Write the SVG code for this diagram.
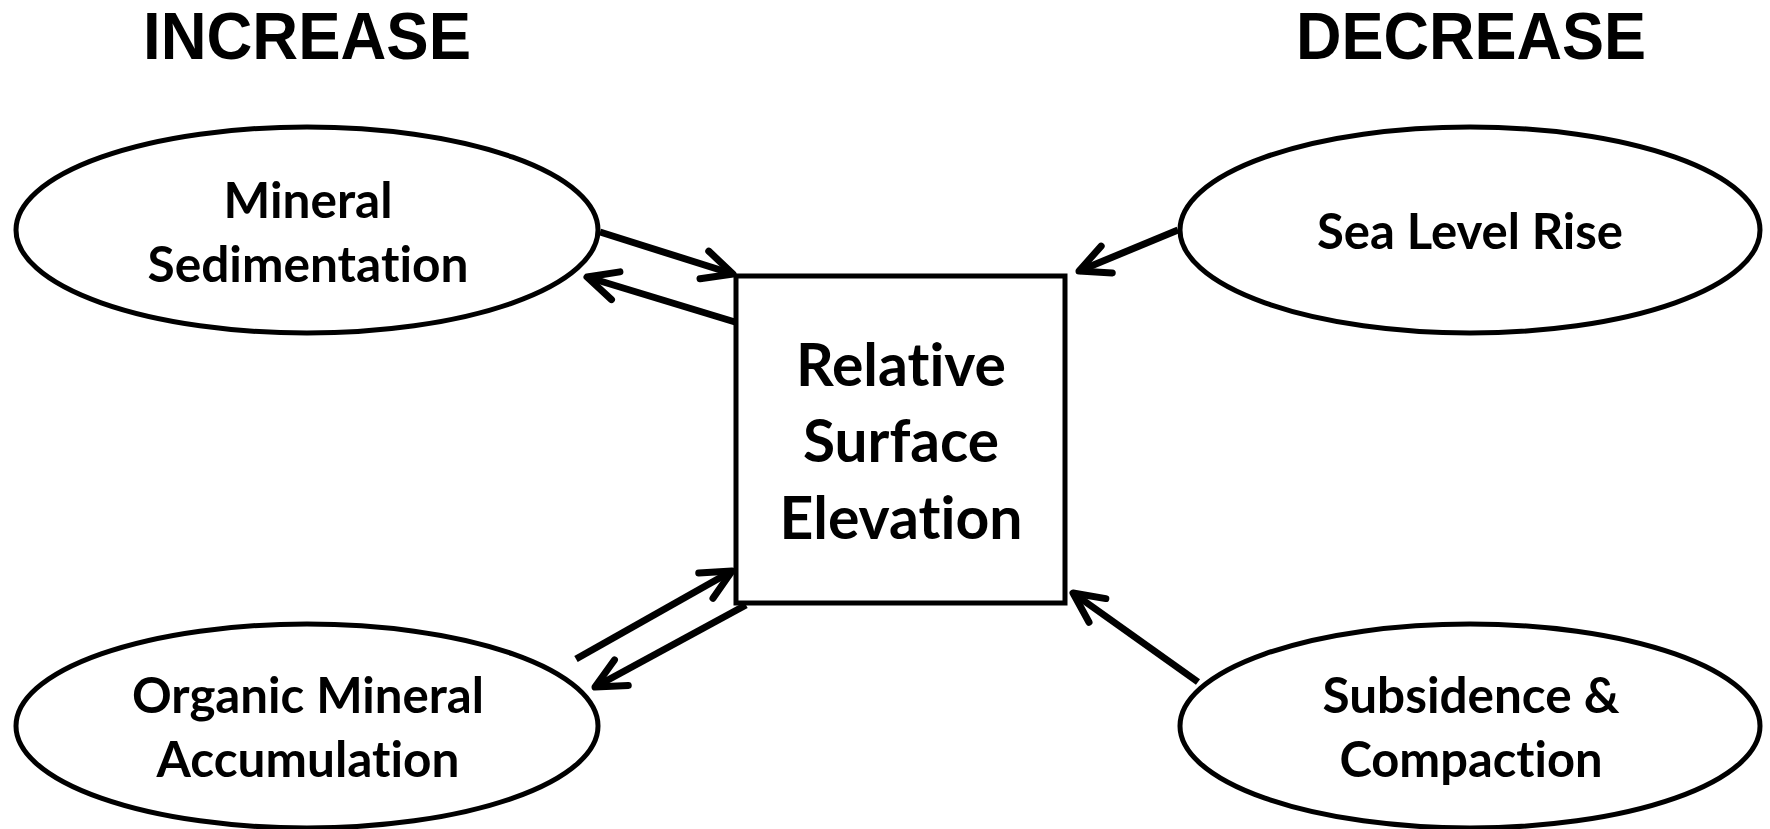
<svg xmlns="http://www.w3.org/2000/svg" width="1770" height="829" viewBox="0 0 1770 829">
  <style>
    .shape { fill: #fff; stroke: #000; stroke-width: 5; }
    .head { font-family: "Liberation Sans", Arial, sans-serif; font-weight: bold; font-size: 67px; text-anchor: middle; fill: #000; }
    .lbl { font-family: Lato, "Open Sans", sans-serif; font-weight: bold; font-size: 49px; text-anchor: middle; fill: #000; font-variant-ligatures: none; }
    .big { font-family: Lato, "Open Sans", sans-serif; font-weight: bold; font-size: 60px; text-anchor: middle; fill: #000; font-variant-ligatures: none; }
    .link { fill: none; stroke: #000; stroke-width: 7; stroke-linecap: butt; }
  </style>
  <defs>
    <marker id="chev" markerUnits="userSpaceOnUse" markerWidth="60" markerHeight="60" refX="0" refY="0" orient="auto" overflow="visible">
      <path d="M -30 -14.5 L 0 0 L -30 14.5" fill="none" stroke="#000" stroke-width="7" stroke-linecap="round" stroke-linejoin="round"/>
    </marker>
  </defs>
  <rect width="1770" height="829" fill="#fff"/>

  <text class="head" x="307" y="59" textLength="328" lengthAdjust="spacingAndGlyphs">INCREASE</text>
  <text class="head" x="1471" y="59" textLength="350" lengthAdjust="spacingAndGlyphs">DECREASE</text>

  <g id="connectors">
    <line class="link" x1="600" y1="232" x2="733" y2="274" marker-end="url(#chev)"/>
    <line class="link" x1="735" y1="322" x2="587" y2="277" marker-end="url(#chev)"/>
    <line class="link" x1="576" y1="659" x2="732" y2="571" marker-end="url(#chev)"/>
    <line class="link" x1="746" y1="605" x2="595" y2="687" marker-end="url(#chev)"/>
    <line class="link" x1="1178" y1="230" x2="1079" y2="271" marker-end="url(#chev)"/>
    <line class="link" x1="1198" y1="682" x2="1073" y2="593" marker-end="url(#chev)"/>
  </g>

  <g id="mineral-sedimentation">
    <ellipse class="shape" cx="307" cy="230" rx="291" ry="103"/>
    <text class="lbl" x="308" y="218" textLength="169" lengthAdjust="spacingAndGlyphs">Mineral</text>
    <text class="lbl" x="308" y="282" textLength="321" lengthAdjust="spacingAndGlyphs">Sedimentation</text>
  </g>

  <g id="sea-level-rise">
    <ellipse class="shape" cx="1470" cy="230" rx="290" ry="103"/>
    <text class="lbl" x="1470" y="249" textLength="306" lengthAdjust="spacingAndGlyphs">Sea Level Rise</text>
  </g>

  <g id="organic-mineral-accumulation">
    <ellipse class="shape" cx="307" cy="726" rx="291" ry="102"/>
    <text class="lbl" x="308" y="713" textLength="352" lengthAdjust="spacingAndGlyphs">Organic Mineral</text>
    <text class="lbl" x="308" y="777" textLength="303" lengthAdjust="spacingAndGlyphs">Accumulation</text>
  </g>

  <g id="subsidence-compaction">
    <ellipse class="shape" cx="1470" cy="726" rx="290" ry="102"/>
    <text class="lbl" x="1471" y="713" textLength="297" lengthAdjust="spacingAndGlyphs">Subsidence &amp;</text>
    <text class="lbl" x="1471" y="777" textLength="263" lengthAdjust="spacingAndGlyphs">Compaction</text>
  </g>

  <g id="relative-surface-elevation">
    <rect class="shape" x="736" y="276" width="329" height="327"/>
    <text class="big" x="901" y="386" textLength="210" lengthAdjust="spacingAndGlyphs">Relative</text>
    <text class="big" x="901" y="462" textLength="196" lengthAdjust="spacingAndGlyphs">Surface</text>
    <text class="big" x="901" y="539" textLength="243" lengthAdjust="spacingAndGlyphs">Elevation</text>
  </g>
</svg>
